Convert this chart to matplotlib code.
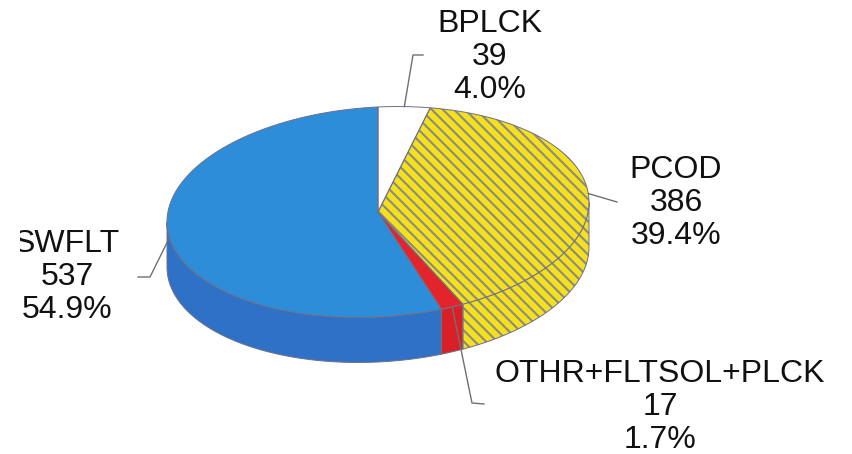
import numpy as np
import matplotlib
matplotlib.use('Agg')
import matplotlib.pyplot as plt
from matplotlib.patches import Polygon
from matplotlib.transforms import Bbox, TransformedBbox

# slice data, clockwise from 12 o'clock
labels = ['BPLCK', 'PCOD', 'OTHR+FLTSOL+PLCK', 'SWFLT']
counts = [39, 386, 17, 537]
percents = ['4.0%', '39.4%', '1.7%', '54.9%']

top_colors = ['#ffffff', '#f4e01e', '#e3242c', '#2d8dd8']
side_colors = ['#f2f2f2', '#f4e01e', '#d92029', '#2f71c7']
hatches = [None, '\\\\\\', None, None]

# pie geometry (pixels)
cx, cy = 378, 212
rx, ry = 211, 105
depth = 45
tilt = 0.047

# label layout: text centre and leader elbow/end
text_pos = [(490, 57), (676, 203), (660, 407), (67, 277)]
leader_pts = [[(413, 55), (423, 55)],
              [(617, 202)],
              [(472, 403), (484, 404)],
              [(150, 277), (138, 277)]]

plt.rcParams['hatch.linewidth'] = 1.5

fig = plt.figure(figsize=(8.52, 4.54), dpi=100)
ax = fig.add_axes([0, 0, 1, 1])
ax.set_xlim(0, 852)
ax.set_ylim(454, 0)
ax.axis('off')


def rim(theta, dy=0.0):
    t = np.radians(theta)
    x = cx + rx * np.sin(t)
    y = cy - ry * np.cos(t) + dy - (x - cx) * tilt
    return x, y


def arc(a, b, dy=0.0):
    th = np.linspace(a, b, max(int(abs(b - a) * 2), 2))
    x, y = rim(th, dy)
    return np.column_stack([x, y])


def add_face(verts, face, side_hatch, z):
    ax.add_patch(Polygon(verts, closed=True, facecolor=face, edgecolor='none',
                         lw=0, zorder=z))
    if side_hatch:
        ax.add_patch(Polygon(verts, closed=True, facecolor='none',
                             edgecolor='#8a8a80', hatch=side_hatch, lw=0,
                             zorder=z + 0.1))
    ax.add_patch(Polygon(verts, closed=True, fill=False, edgecolor='#6f6f88',
                         lw=0.7, zorder=z + 0.2))


total = sum(counts)
bounds = np.concatenate([[0], np.cumsum(counts) / total * 360])

# front wall
for i in range(len(counts)):
    a, b = max(bounds[i], 90), min(bounds[i + 1], 270)
    if a < b:
        verts = np.vstack([arc(a, b), arc(b, a, depth)])
        add_face(verts, side_colors[i], hatches[i], 1)

# top faces
for i in range(len(counts)):
    verts = np.vstack([[[cx, cy]], arc(bounds[i], bounds[i + 1])])
    add_face(verts, top_colors[i], hatches[i], 2)

# labels and leader lines
for i in range(len(counts)):
    mid = (bounds[i] + bounds[i + 1]) / 2
    x0, y0 = rim(mid)
    pts = [(x0, y0)] + leader_pts[i]
    xs, ys = zip(*pts)
    ax.plot(xs, ys, color='#707070', lw=1.0, zorder=3)
    t = ax.text(text_pos[i][0], text_pos[i][1],
                f'{labels[i]}\n{counts[i]}\n{percents[i]}',
                ha='center', va='center', fontsize=23, linespacing=1.13,
                family='Liberation Sans', color='#111111', zorder=4)
    if labels[i] == 'SWFLT':
        # left edge of this label is cut by the plot frame
        t.set_clip_on(True)
        t.set_clip_box(TransformedBbox(Bbox([[20, 0], [852, 454]]), ax.transData))

fig.savefig('out.png', dpi=100)
